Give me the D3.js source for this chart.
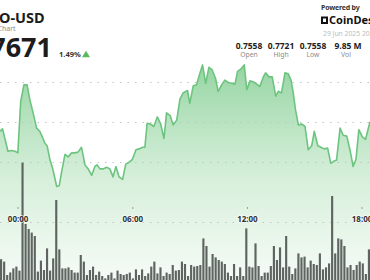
<!DOCTYPE html>
<html>
<head>
    <title>USD Chart</title>
    <script src="https://cdnjs.cloudflare.com/ajax/libs/d3/7.8.5/d3.min.js"></script>
    <style>
        body {
            margin: 0;
            background-color: white;
            font-family: "Noto Sans", "Open Sans", Arial, sans-serif;
        }
        svg {
            display: block;
        }
    </style>
</head>
<body>
    <div id="chart"></div>

    <script>
        // Price line: minutes from 00:00 and price
        const priceTimes = [-57, -49, -32, -21, -10, -1, 8, 18, 28, 37, 47, 58, 68, 77, 84, 91, 100, 108, 115, 121,
            129, 136, 147, 157, 168, 178, 188, 199, 210, 220, 231, 241, 248, 257, 267, 278, 288, 298, 307, 317,
            328, 338, 351, 359, 370, 380, 391, 398, 405, 416, 426, 437, 447, 458, 466, 477, 487, 498, 508, 518,
            532, 539, 550, 560, 571, 579, 589, 599, 609, 620, 628, 639, 649, 660, 670, 681, 689, 700, 710, 718,
            728, 738, 749, 759, 770, 777, 788, 798, 809, 817, 827, 838, 848, 857, 864, 871, 880, 891, 901, 911,
            922, 930, 941, 951, 961, 972, 982, 993, 1000, 1011, 1021, 1032, 1042, 1052, 1061, 1070, 1081, 1091, 1105];
        const prices = [0.7689, 0.7692, 0.7664, 0.7665, 0.7664, 0.7662, 0.7726, 0.7747, 0.7747, 0.7728, 0.7712, 0.7693, 0.7689, 0.7681, 0.7674, 0.7671, 0.7653, 0.7643, 0.7631, 0.7620,
            0.7621, 0.7637, 0.7660, 0.7657, 0.7662, 0.7662, 0.7663, 0.7669, 0.7647, 0.7642, 0.7634, 0.7645, 0.7647, 0.7642, 0.7642, 0.7644, 0.7642, 0.7632, 0.7645, 0.7632,
            0.7629, 0.7648, 0.7651, 0.7654, 0.7666, 0.7667, 0.7669, 0.7669, 0.7699, 0.7698, 0.7695, 0.7707, 0.7699, 0.7680, 0.7712, 0.7709, 0.7697, 0.7703, 0.7729, 0.7737,
            0.7740, 0.7724, 0.7746, 0.7747, 0.7762, 0.7772, 0.7749, 0.7769, 0.7766, 0.7755, 0.7739, 0.7747, 0.7753, 0.7750, 0.7749, 0.7748, 0.7764, 0.7767, 0.7772, 0.7741,
            0.7752, 0.7751, 0.7748, 0.7745, 0.7757, 0.7762, 0.7757, 0.7757, 0.7733, 0.7739, 0.7737, 0.7762, 0.7761, 0.7753, 0.7737, 0.7716, 0.7697, 0.7698, 0.7695, 0.7666,
            0.7671, 0.7689, 0.7671, 0.7669, 0.7667, 0.7668, 0.7649, 0.7652, 0.7653, 0.7693, 0.7684, 0.7683, 0.7666, 0.7645, 0.7654, 0.7691, 0.7682, 0.7679, 0.7701];

        // Volume bars (thousands)
        const volumes = [104, 92, 25, 38, 58, 67, 47, 587, 280, 255, 237, 220, 42, 97, 50, 158, 47, 108, 400, 153,
            58, 58, 63, 50, 37, 37, 125, 92, 25, 50, 67, 25, 42, 20, 8, 25, 37, 8, 47, 30,
            25, 30, 37, 8, 53, 25, 53, 20, 33, 67, 92, 33, 63, 20, 37, 30, 75, 47, 50, 92,
            80, 20, 75, 67, 70, 75, 208, 170, 67, 130, 113, 100, 92, 80, 37, 20, 80, 20, 63, 20,
            258, 67, 63, 183, 70, 20, 37, 37, 70, 170, 100, 163, 63, 220, 67, 30, 58, 133, 113, 117,
            63, 97, 80, 75, 133, 53, 63, 83, 420, 133, 208, 203, 170, 63, 75, 50, 75, 92, 83, 30,
            153];

        const gridPrices = [0.765, 0.770, 0.775];
        const tickMinutes = [0, 360, 720, 1080];
        const tickLabels = ["00:00", "06:00", "12:00", "18:00"];

        const statValues = ["0.7558", "0.7721", "0.7558", "9.85 M"];
        const statLabels = ["Open", "High", "Low", "Vol"];

        const width = 370;
        const height = 280;

        const svg = d3.select("#chart")
            .append("svg")
            .attr("width", width)
            .attr("height", height);

        const x = d3.scaleLinear().domain([-57, 1105]).range([0, width]);
        const y = d3.scaleLinear().domain([0.765, 0.775]).range([162.5, 82.5]);
        const xBar = d3.scaleBand().domain(d3.range(volumes.length)).range([0, width]).paddingInner(0.3);
        const yVol = d3.scaleLinear().domain([0, 700]).range([height, 140]);

        // Gradient for the area
        const defs = svg.append("defs");
        const grad = defs.append("linearGradient")
            .attr("id", "areaGrad")
            .attr("gradientUnits", "userSpaceOnUse")
            .attr("x1", 0).attr("y1", 60)
            .attr("x2", 0).attr("y2", height);
        grad.append("stop").attr("offset", "0%").attr("stop-color", "#7fcc8f").attr("stop-opacity", 0.85);
        grad.append("stop").attr("offset", "55%").attr("stop-color", "#c6e9cc").attr("stop-opacity", 0.7);
        grad.append("stop").attr("offset", "100%").attr("stop-color", "#eef8ef").attr("stop-opacity", 0.6);

        const pts = priceTimes.map((t, i) => [t, prices[i]]);

        const area = d3.area()
            .x(d => x(d[0]))
            .y0(height)
            .y1(d => y(d[1]));

        const line = d3.line()
            .x(d => x(d[0]))
            .y(d => y(d[1]));

        svg.append("path")
            .datum(pts)
            .attr("fill", "url(#areaGrad)")
            .attr("d", area);

        // Dotted gridlines
        svg.append("g")
            .selectAll("line")
            .data(gridPrices)
            .enter()
            .append("line")
            .attr("x1", 0).attr("x2", width)
            .attr("y1", d => y(d)).attr("y2", d => y(d))
            .attr("stroke", "#c4c4c4")
            .attr("stroke-width", 1)
            .attr("stroke-dasharray", "1.5,6");

        // Axis baseline (dotted)
        svg.append("line")
            .attr("x1", 0).attr("x2", width)
            .attr("y1", 222.5).attr("y2", 222.5)
            .attr("stroke", "#c4c4c4")
            .attr("stroke-width", 1)
            .attr("stroke-dasharray", "1.5,6");

        // Volume bars
        svg.append("g")
            .selectAll("rect")
            .data(volumes)
            .enter()
            .append("rect")
            .attr("x", (d, i) => xBar(i))
            .attr("width", xBar.bandwidth())
            .attr("y", d => yVol(d))
            .attr("height", d => height - yVol(d))
            .attr("fill", "#5e645f");

        // Price line
        svg.append("path")
            .datum(pts)
            .attr("fill", "none")
            .attr("stroke", "#6cc47f")
            .attr("stroke-width", 1.6)
            .attr("stroke-linejoin", "round")
            .attr("d", line);

        // Time ticks and labels
        const ticks = svg.append("g");
        ticks.selectAll("line")
            .data(tickMinutes)
            .enter()
            .append("line")
            .attr("x1", d => x(d)).attr("x2", d => x(d))
            .attr("y1", 207).attr("y2", 209)
            .attr("stroke", "#999");
        ticks.selectAll("text")
            .data(tickMinutes)
            .enter()
            .append("text")
            .attr("x", d => x(d))
            .attr("y", 222)
            .attr("text-anchor", "middle")
            .attr("font-size", "8px")
            .attr("font-weight", "bold")
            .attr("fill", "#333")
            .attr("stroke", "rgba(255,255,255,0.6)")
            .attr("stroke-width", 2)
            .attr("paint-order", "stroke")
            .text((d, i) => tickLabels[i]);

        // Header left
        svg.append("text")
            .attr("x", -1).attr("y", 23)
            .attr("font-size", "14.5px")
            .attr("font-weight", "bold")
            .attr("fill", "#1c1c1c")
            .text("O-USD");
        svg.append("text")
            .attr("x", -2.5).attr("y", 30.5)
            .attr("font-size", "7px")
            .attr("fill", "#8a8a8a")
            .text("Chart");
        svg.append("text")
            .attr("x", 52).attr("y", 57)
            .attr("text-anchor", "end")
            .attr("font-size", "27px")
            .attr("font-weight", "bold")
            .attr("fill", "#1c1c1c")
            .text("0.7671");
        svg.append("text")
            .attr("x", 59).attr("y", 57)
            .attr("font-size", "7.5px")
            .attr("font-weight", "bold")
            .attr("fill", "#333")
            .text("1.49%");
        svg.append("path")
            .attr("d", "M82,57.3L86,50.7L90,57.3Z")
            .attr("fill", "#5cb85c");

        // Header right
        svg.append("text")
            .attr("x", 321).attr("y", 10)
            .attr("font-size", "7px")
            .attr("font-weight", "bold")
            .attr("fill", "#333")
            .attr("letter-spacing", "-0.2px")
            .text("Powered by");
        const logo = svg.append("g");
        logo.append("rect")
            .attr("x", 321).attr("y", 16.5)
            .attr("width", 7).attr("height", 7.5)
            .attr("fill", "#111");
        logo.append("rect")
            .attr("x", 323).attr("y", 18.5)
            .attr("width", 3).attr("height", 3.5)
            .attr("fill", "white");
        logo.append("text")
            .attr("x", 329).attr("y", 24)
            .attr("font-size", "11px")
            .attr("font-weight", "bold")
            .attr("fill", "#111")
            .text("CoinDesk");
        svg.append("text")
            .attr("x", 323).attr("y", 35.5)
            .attr("font-size", "6.8px")
            .attr("fill", "#bdbdbd")
            .text("29 Jun 2025 20:00");

        const statX = [249, 281, 313, 348];
        svg.append("g")
            .selectAll("text")
            .data(statValues)
            .enter()
            .append("text")
            .attr("x", (d, i) => statX[i])
            .attr("y", 48.5)
            .attr("text-anchor", "middle")
            .attr("font-size", "8.5px")
            .attr("font-weight", "bold")
            .attr("fill", "#222")
            .text(d => d);
        svg.append("g")
            .selectAll("text")
            .data(statLabels)
            .enter()
            .append("text")
            .attr("x", (d, i) => statX[i] - (i === 3 ? 2 : 0))
            .attr("y", 57)
            .attr("text-anchor", "middle")
            .attr("font-size", "6.8px")
            .attr("fill", "#8a8a8a")
            .text(d => d);
    </script>
</body>
</html>
